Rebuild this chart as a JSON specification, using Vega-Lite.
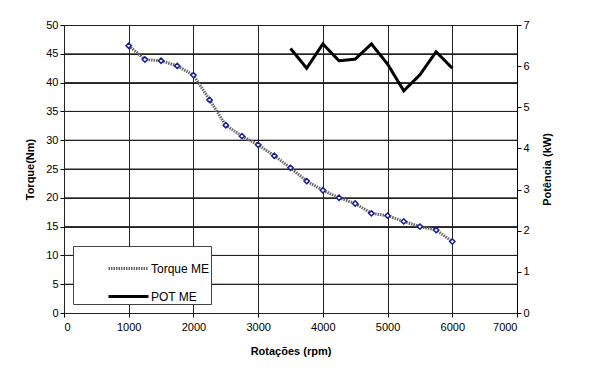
{
  "$schema": "https://vega.github.io/schema/vega-lite/v6.json",
  "width": 453,
  "height": 288,
  "autosize": "none",
  "padding": {"left": 64, "top": 25, "right": 78, "bottom": 61},
  "background": "white",
  "config": {
    "font": "Liberation Sans",
    "view": {"stroke": "#000", "strokeDash": [4, 2], "strokeWidth": 1},
    "axis": {
      "labelFontSize": 11, "labelColor": "#000", "titleFontSize": 11, "titleFontWeight": "bold",
      "titleColor": "#000", "tickColor": "#000", "domainColor": "#000", "gridColor": "#222", "gridOpacity": 1, "tickSize": 4, "labelOverlap": false
    }
  },
  "datasets": {
    "grade": [{"g": 5}, {"g": 10}, {"g": 15}, {"g": 20}, {"g": 25}, {"g": 30}, {"g": 35}, {"g": 40}, {"g": 45}],
    "torque": [
      {"rpm": 1000, "v": 46.4, "serie": "Torque ME"},
      {"rpm": 1250, "v": 44.0, "serie": "Torque ME"},
      {"rpm": 1500, "v": 43.8, "serie": "Torque ME"},
      {"rpm": 1750, "v": 42.9, "serie": "Torque ME"},
      {"rpm": 2000, "v": 41.3, "serie": "Torque ME"},
      {"rpm": 2250, "v": 37.0, "serie": "Torque ME"},
      {"rpm": 2500, "v": 32.6, "serie": "Torque ME"},
      {"rpm": 2750, "v": 30.7, "serie": "Torque ME"},
      {"rpm": 3000, "v": 29.2, "serie": "Torque ME"},
      {"rpm": 3250, "v": 27.3, "serie": "Torque ME"},
      {"rpm": 3500, "v": 25.2, "serie": "Torque ME"},
      {"rpm": 3750, "v": 22.9, "serie": "Torque ME"},
      {"rpm": 4000, "v": 21.3, "serie": "Torque ME"},
      {"rpm": 4250, "v": 20.0, "serie": "Torque ME"},
      {"rpm": 4500, "v": 19.0, "serie": "Torque ME"},
      {"rpm": 4750, "v": 17.3, "serie": "Torque ME"},
      {"rpm": 5000, "v": 16.9, "serie": "Torque ME"},
      {"rpm": 5250, "v": 15.9, "serie": "Torque ME"},
      {"rpm": 5500, "v": 15.0, "serie": "Torque ME"},
      {"rpm": 5750, "v": 14.4, "serie": "Torque ME"},
      {"rpm": 6000, "v": 12.4, "serie": "Torque ME"}
    ],
    "pot": [
      {"rpm": 3500, "p": 6.43, "serie": "POT ME"},
      {"rpm": 3750, "p": 5.95, "serie": "POT ME"},
      {"rpm": 4000, "p": 6.54, "serie": "POT ME"},
      {"rpm": 4250, "p": 6.13, "serie": "POT ME"},
      {"rpm": 4500, "p": 6.17, "serie": "POT ME"},
      {"rpm": 4750, "p": 6.54, "serie": "POT ME"},
      {"rpm": 5000, "p": 6.05, "serie": "POT ME"},
      {"rpm": 5250, "p": 5.40, "serie": "POT ME"},
      {"rpm": 5500, "p": 5.79, "serie": "POT ME"},
      {"rpm": 5750, "p": 6.35, "serie": "POT ME"},
      {"rpm": 6000, "p": 5.95, "serie": "POT ME"}
    ]
  },
  "layer": [
    {
      "layer": [
        {
          "data": {"name": "grade"},
          "mark": {"type": "rule", "color": "#222", "strokeWidth": 1},
          "encoding": {
            "y": {"field": "g", "type": "quantitative", "scale": {"domain": [0, 50]},
                  "axis": {"values": [0,5,10,15,20,25,30,35,40,45,50], "title": "Torque(Nm)", "domain": false, "titlePadding": 10}}
          }
        },
        {
          "data": {"name": "torque"},
          "mark": {"type": "line", "strokeWidth": 3},
          "encoding": {
            "x": {"field": "rpm", "type": "quantitative", "scale": {"domain": [0, 7000]},
                  "axis": {"values": [0,1000,2000,3000,4000,5000,6000,7000], "format": "d", "title": "Rotações (rpm)", "domain": false, "grid": true, "titlePadding": 13, "labelPadding": 4}},
            "y": {"field": "v", "type": "quantitative",
                  "axis": {"values": [0,5,10,15,20,25,30,35,40,45,50], "title": "Torque(Nm)", "domain": false, "titlePadding": 10}},
            "stroke": {"field": "serie", "type": "nominal",
                       "scale": {"domain": ["Torque ME", "POT ME"], "range": ["#666", "#000"]},
                       "legend": {"orient": "none", "legendX": 9, "legendY": 221, "title": null, "fillColor": "white", "strokeColor": "#444", "padding": 1, "labelFontSize": 12, "labelColor": "#000", "symbolType": "stroke", "symbolSize": 1600, "symbolStrokeWidth": 3, "rowPadding": -11, "symbolOffset": 33, "labelOffset": 1}},
            "strokeDash": {"field": "serie", "type": "nominal",
                           "scale": {"domain": ["Torque ME", "POT ME"], "range": [[1.5, 1], [1, 0]]}}
          }
        },
        {
          "data": {"name": "torque"},
          "mark": {"type": "point", "shape": "diamond", "filled": true, "fill": "white", "stroke": "#1c1c99", "strokeWidth": 1.5, "size": 28, "opacity": 1},
          "encoding": {
            "x": {"field": "rpm", "type": "quantitative",
                  "axis": {"values": [0,1000,2000,3000,4000,5000,6000,7000], "format": "d", "title": "Rotações (rpm)", "domain": false, "grid": true, "titlePadding": 13, "labelPadding": 4}},
            "y": {"field": "v", "type": "quantitative",
                  "axis": {"values": [0,5,10,15,20,25,30,35,40,45,50], "title": "Torque(Nm)", "domain": false, "titlePadding": 10}}
          }
        }
      ]
    },
    {
      "data": {"name": "pot"},
      "mark": {"type": "line", "strokeWidth": 3},
      "encoding": {
        "x": {"field": "rpm", "type": "quantitative",
              "axis": {"values": [0,1000,2000,3000,4000,5000,6000,7000], "format": "d", "title": "Rotações (rpm)", "domain": false, "grid": true, "titlePadding": 13, "labelPadding": 4}},
        "y": {"field": "p", "type": "quantitative", "scale": {"domain": [0, 7]},
              "axis": {"orient": "right", "values": [0,1,2,3,4,5,6,7], "title": "Potência (kW)", "grid": false, "titleAngle": 270, "titleX": 30, "titleY": 144, "titleAlign": "center", "titleBaseline": "middle"}},
        "stroke": {"field": "serie", "type": "nominal"},
        "strokeDash": {"field": "serie", "type": "nominal"}
      }
    }
  ],
  "resolve": {"scale": {"y": "independent"}}
}
